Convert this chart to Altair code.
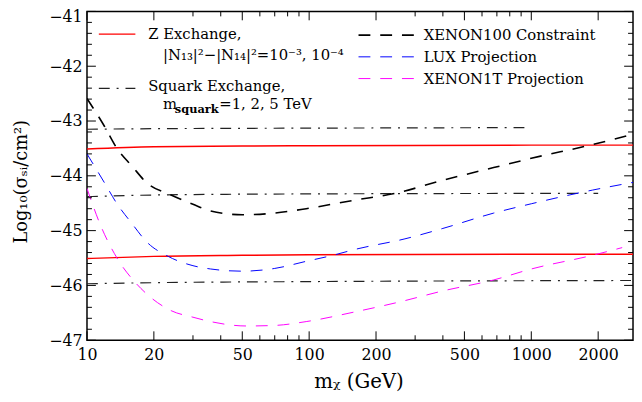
import altair as alt
import pandas as pd

# ---------------- data ----------------
z_x = [10, 20, 50, 100, 1000, 2870]
z1_y = [-43.51, -43.47, -43.455, -43.45, -43.44, -43.44]
z2_y = [-45.51, -45.47, -45.45, -45.44, -45.43, -45.43]

sq1_x = [10, 20, 100, 1000]
sq1_y = [-43.15, -43.14, -43.13, -43.12]
sq2_x = [10, 20, 100, 2000]
sq2_y = [-44.38, -44.35, -44.33, -44.32]
sq3_x = [10, 20, 100, 2870]
sq3_y = [-45.97, -45.95, -45.93, -45.91]

x100_x = [10, 12, 13.6, 16, 18.5, 23.9, 30, 36, 50, 70, 97, 162, 244, 400, 677, 1000, 1888, 2870]
x100_y = [-42.59, -43.1, -43.49, -43.83, -44.12, -44.35, -44.52, -44.64, -44.71, -44.68,
          -44.6, -44.44, -44.32, -44.08, -43.85, -43.68, -43.43, -43.24]

lux_x = [10, 12, 13.6, 16, 18.5, 23.2, 30, 36, 50, 70, 97, 128, 162, 270, 400, 677, 1000, 1888, 2870]
lux_y = [-43.6, -44.13, -44.5, -44.88, -45.2, -45.47, -45.64, -45.7, -45.74, -45.69,
         -45.56, -45.45, -45.34, -45.15, -44.96, -44.68, -44.51, -44.26, -44.12]

x1t_x = [10, 11.5, 13.6, 16.7, 18.5, 23.9, 30, 36, 52, 70, 97, 162, 256, 400, 677, 1000, 1888, 2565]
x1t_y = [-44.23, -44.9, -45.49, -45.97, -46.15, -46.46, -46.58, -46.66, -46.74, -46.73,
         -46.66, -46.48, -46.3, -46.1, -45.9, -45.7, -45.45, -45.31]

x_major = [10, 20, 50, 100, 200, 500, 1000, 2000]
x_minor = [30, 40, 60, 70, 80, 90, 300, 400, 600, 700, 800, 900]
y_major = [-47, -46, -45, -44, -43, -42, -41]
y_minor = [-46.8, -46.6, -46.4, -46.2, -45.8, -45.6, -45.4, -45.2, -44.8, -44.6, -44.4, -44.2,
           -43.8, -43.6, -43.4, -43.2, -42.8, -42.6, -42.4, -42.2, -41.8, -41.6, -41.4, -41.2]

legend_labels = ["Z Exchange,", "|N₁₃|²−|N₁₄|²=10⁻³, 10⁻⁴", "Squark Exchange,",
                 "m", "squark", "=1, 2, 5 TeV",
                 "XENON100 Constraint", "LUX Projection", "XENON1T Projection"]

x_title = "mᵪ (GeV)"
y_title = "Log₁₀(σₛᵢ/cm²)"

# ---------------- layout ----------------
W, H = 553, 333
FONT = "DejaVu Serif"
xscale = alt.Scale(type="log", domain=[10, 2870], nice=False)
yscale = alt.Scale(domain=[-47, -41], nice=False, zero=False)

x_axis = alt.Axis(values=x_major, format="d", ticks=False, domain=False, grid=False,
                  labelFont=FONT, labelFontSize=16, labelColor="black", labelPadding=7,
                  labelFlush=False, labelOverlap=False,
                  title=x_title, titleFont=FONT, titleFontSize=20, titleFontWeight="normal",
                  titleColor="black", titleX=275, titleY=48, titleBaseline="alphabetic",
                  titleAlign="center")
y_axis = alt.Axis(values=y_major, format="d", ticks=False, domain=False, grid=False,
                  labelFont=FONT, labelFontSize=16, labelColor="black", labelPadding=5,
                  labelFlush=False, labelOverlap=False,
                  labelOffset={"condition": {"test": "datum.value == -41", "value": 5},
                               "value": 0},
                  title=y_title, titleFont=FONT, titleFontSize=18, titleFontWeight="normal",
                  titleColor="black", titleX=-61, titleY=172, titleAngle=270,
                  titleBaseline="alphabetic", titleAlign="center")

# invisible layer that carries the axes
axis_df = pd.DataFrame({"m": [10, 2870], "s": [-47, -41]})
axis_layer = alt.Chart(axis_df).mark_point(opacity=0, size=1).encode(
    x=alt.X("m:Q", scale=xscale, axis=x_axis),
    y=alt.Y("s:Q", scale=yscale, axis=y_axis),
)


def curve(xs, ys, color, width, dash=None):
    df = pd.DataFrame({"m": xs, "s": ys})
    kw = dict(color=color, strokeWidth=width, interpolate="monotone", clip=True)
    if dash:
        kw["strokeDash"] = dash
    return alt.Chart(df).mark_line(**kw).encode(
        x=alt.X("m:Q", scale=xscale, axis=x_axis),
        y=alt.Y("s:Q", scale=yscale, axis=y_axis),
    )


DASH = [12, 10]
DASHDOT = [11, 7, 2, 7]
layers = [
    axis_layer,
    curve(z_x, z1_y, "#ff0000", 1.5),
    curve(z_x, z2_y, "#ff0000", 1.5),
    curve(sq1_x, sq1_y, "#222222", 1.2, DASHDOT),
    curve(sq2_x, sq2_y, "#222222", 1.2, DASHDOT),
    curve(sq3_x, sq3_y, "#222222", 1.2, DASHDOT),
    curve(x100_x, x100_y, "black", 1.6, DASH),
    curve(lux_x, lux_y, "#0000ff", 1.0, DASH),
    curve(x1t_x, x1t_y, "#ff00ff", 1.0, DASH),
]


def xticks(vals, length):
    df = pd.DataFrame({"m": vals})
    base = alt.Chart(df).mark_rule(color="black", strokeWidth=1)
    enc_x = alt.X("m:Q", scale=xscale, axis=x_axis)
    return [base.encode(x=enc_x, y=alt.value(H), y2=alt.value(H - length)),
            base.encode(x=enc_x, y=alt.value(0), y2=alt.value(length))]


def yticks(vals, length):
    df = pd.DataFrame({"s": vals})
    base = alt.Chart(df).mark_rule(color="black", strokeWidth=1)
    enc_y = alt.Y("s:Q", scale=yscale, axis=y_axis)
    return [base.encode(y=enc_y, x=alt.value(0), x2=alt.value(length)),
            base.encode(y=enc_y, x=alt.value(W), x2=alt.value(W - length))]


layers += xticks(x_major, 9) + xticks(x_minor, 5) + yticks(y_major, 9) + yticks(y_minor, 5)

one = pd.DataFrame({"k": [0]})


def sample(x1, x2, y, color, width, dash=None):
    kw = dict(color=color, strokeWidth=width)
    if dash:
        kw["strokeDash"] = dash
    return alt.Chart(one).mark_rule(**kw).encode(x=alt.value(x1), x2=alt.value(x2), y=alt.value(y))


def label(txt, x, y, size=15, weight="normal"):
    return alt.Chart(pd.DataFrame({"t": [txt]})).mark_text(
        font=FONT, fontSize=size, fontWeight=weight, color="black", align="left",
        baseline="alphabetic").encode(text="t:N", x=alt.value(x), y=alt.value(y))


layers += [
    sample(12, 49, 23, "#ff0000", 1.5),
    sample(12, 49, 78, "#222222", 1.2, DASHDOT),
    sample(275, 332, 24, "black", 1.6, DASH),
    sample(275, 332, 46, "#0000ff", 1.0, DASH),
    sample(275, 332, 68, "#ff00ff", 1.0, DASH),
    label(legend_labels[0], 62, 28),
    label(legend_labels[1], 77, 49),
    label(legend_labels[2], 62, 81),
    label(legend_labels[3], 77, 99),
    label(legend_labels[4], 89, 103, size=11.5, weight="bold"),
    label(legend_labels[5], 134, 99),
    label(legend_labels[6], 341, 29),
    label(legend_labels[7], 341, 51),
    label(legend_labels[8], 341, 73),
]

chart = alt.layer(*layers).properties(
    width=W, height=H,
    autosize=alt.AutoSizeParams(type="none"),
    padding={"left": 80, "top": 1, "right": 1, "bottom": 52},
).configure_view(stroke="black", strokeWidth=1.5)

chart.save("out.html", embed_options={"renderer": "svg", "actions": False})
